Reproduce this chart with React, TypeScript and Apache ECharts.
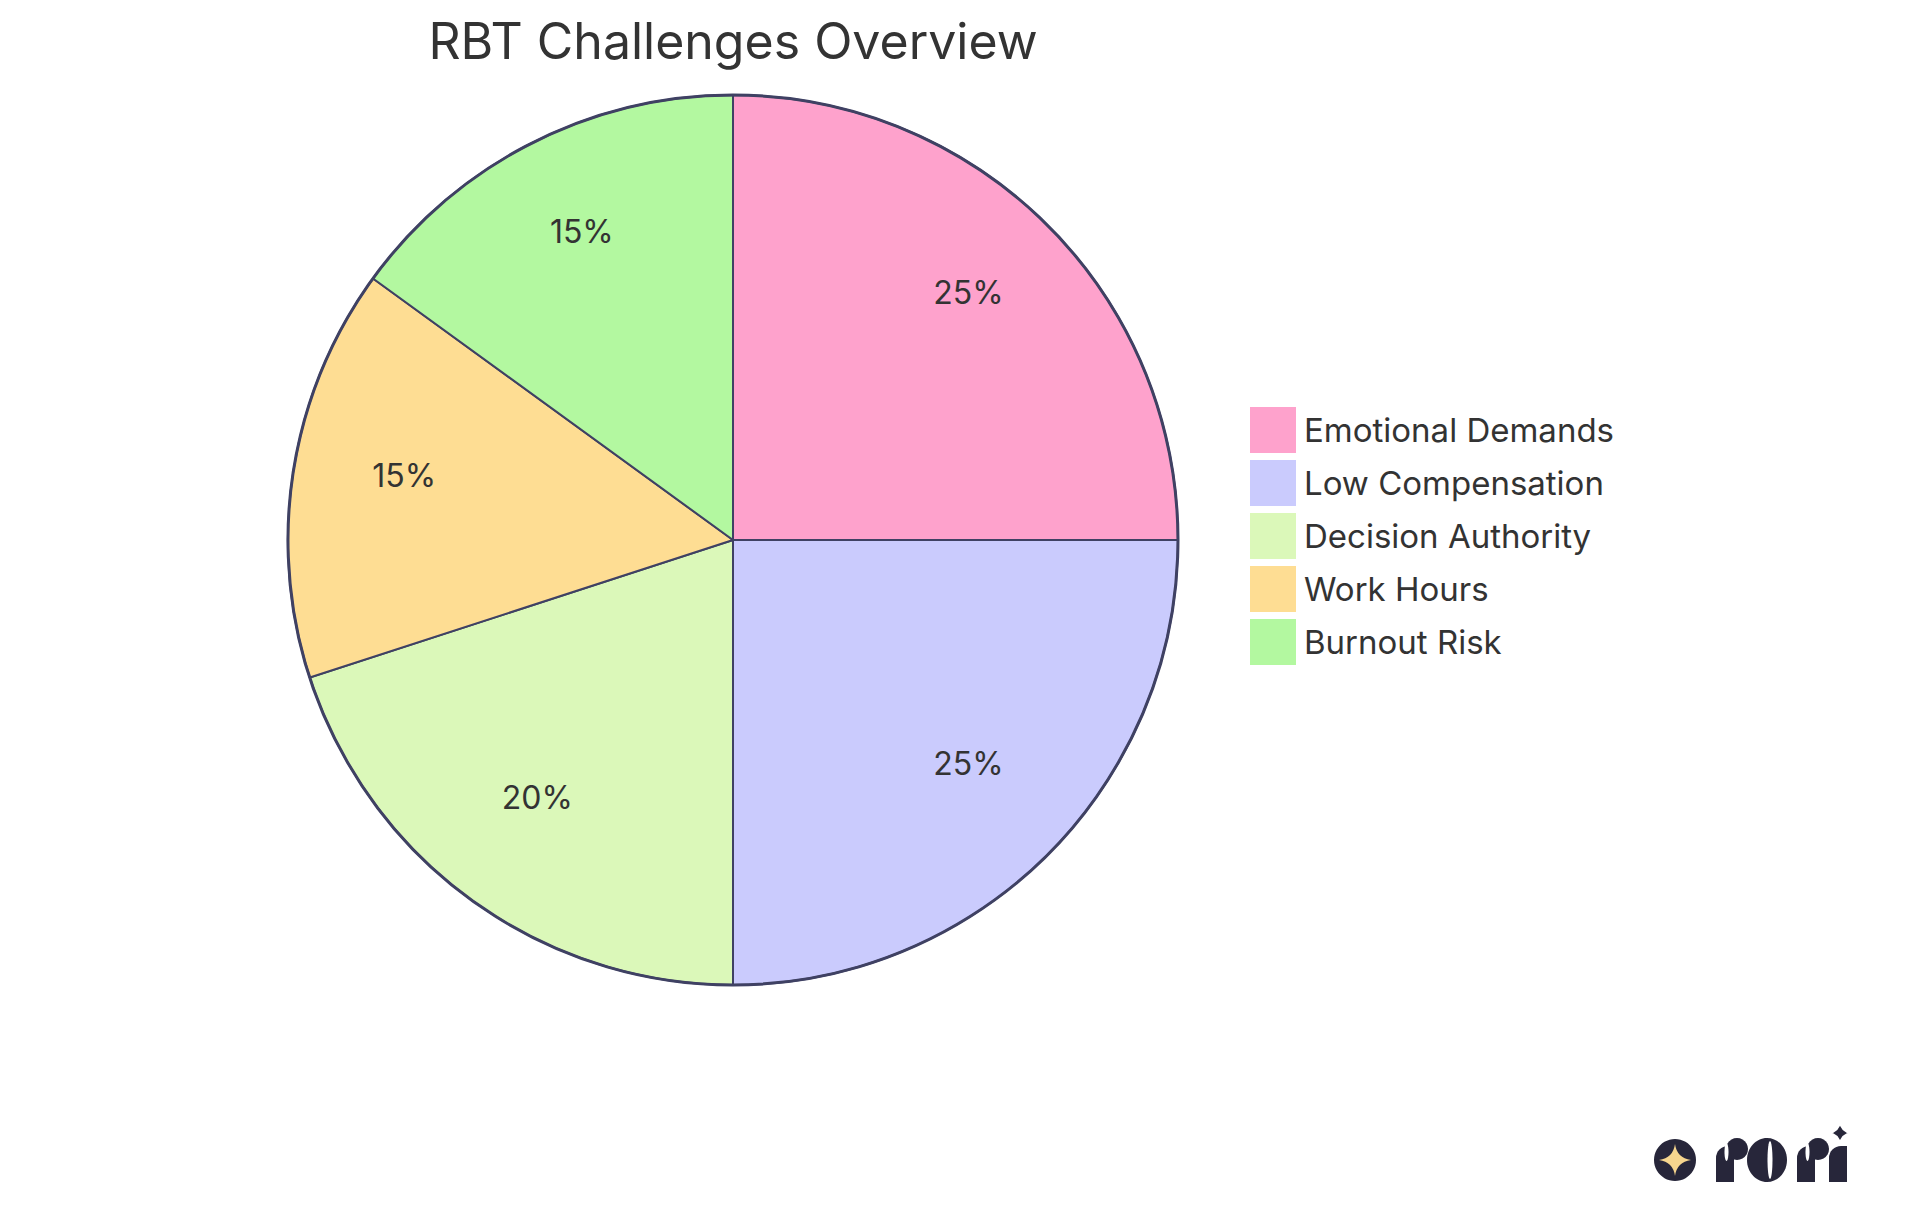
import React, { useEffect, useRef } from "react";
import * as echarts from "echarts";

const chartTitle = "RBT Challenges Overview";
const categories = [
  "Emotional Demands",
  "Low Compensation",
  "Decision Authority",
  "Work Hours",
  "Burnout Risk",
];
const values = [25, 25, 20, 15, 15];
const sliceColors = ["#FEA2CC", "#CACBFD", "#DBF8B9", "#FEDD93", "#B3F8A0"];

const FONT = "Inter, 'Noto Sans', sans-serif";
const STROKE = "#3F4163";
const DARK = "#27263A";

echarts.graphic.registerShape(
  "star4",
  echarts.graphic.extendPath(
    "M0,-1 Q0.12,-0.12 1,0 Q0.12,0.12 0,1 Q-0.12,0.12 -1,0 Q-0.12,-0.12 0,-1 Z",
    {}
  )
);

export default function App() {
  const ref = useRef<HTMLDivElement>(null);

  useEffect(() => {
    if (!ref.current) return;
    const chart = echarts.init(ref.current, undefined, { renderer: "svg" });

    const pieData = categories.map((name, i) => ({
      name,
      value: values[i],
      itemStyle: { color: sliceColors[i] },
    }));
    const labelData = categories.map((name, i) => ({
      name,
      value: values[i],
    }));

    const center = [733, 540];
    const R = 445;

    const rLetter = (x0: number) => [
      {
        type: "rect",
        shape: { x: x0, y: 1146, width: 18, height: 36, r: [12, 0, 0, 0] },
        style: { fill: DARK },
      },
      {
        type: "circle",
        shape: { cx: x0 + 21, cy: 1149, r: 11 },
        style: { fill: DARK },
      },
      {
        type: "ellipse",
        shape: { cx: x0 + 10.5, cy: 1152, rx: 2, ry: 9 },
        style: { fill: "#ffffff" },
      },
    ];

    chart.setOption({
      animation: false,
      backgroundColor: "#ffffff",
      legend: {
        orient: "vertical",
        left: 1250,
        top: 407,
        padding: 0,
        itemWidth: 46,
        itemHeight: 46,
        itemGap: 7,
        icon: "rect",
        selectedMode: false,
        textStyle: {
          fontFamily: FONT,
          fontSize: 33,
          color: "#333333",
          padding: [0, 0, 0, 3],
        },
        data: categories.map((name, i) => ({
          name,
          itemStyle: { color: sliceColors[i], borderWidth: 0 },
        })),
      },
      series: [
        {
          type: "pie",
          center,
          radius: R,
          startAngle: 90,
          clockwise: true,
          silent: true,
          label: { show: false },
          labelLine: { show: false },
          itemStyle: { borderColor: STROKE, borderWidth: 2 },
          emphasis: { disabled: true },
          data: pieData,
        },
        {
          type: "pie",
          center,
          radius: [215, R],
          startAngle: 90,
          clockwise: true,
          silent: true,
          itemStyle: { color: "transparent", borderWidth: 0 },
          label: {
            show: true,
            position: "inside",
            fontFamily: FONT,
            fontSize: 32,
            color: "#333333",
            offset: [0, -12],
            formatter: (p: any) => Math.round(p.percent) + "%",
          },
          labelLine: { show: false },
          emphasis: { disabled: true },
          data: labelData,
        },
        {
          type: "pie",
          center,
          radius: R,
          silent: true,
          label: { show: false },
          labelLine: { show: false },
          itemStyle: { color: "transparent", borderColor: STROKE, borderWidth: 3 },
          emphasis: { disabled: true },
          data: [{ name: "outline", value: 1 }],
        },
      ],
      graphic: [
        {
          type: "text",
          x: 733,
          y: 41,
          style: {
            text: chartTitle,
            fontFamily: FONT,
            fontSize: 50,
            fill: "#333333",
            textAlign: "center",
            textVerticalAlign: "middle",
          },
        },
        {
          type: "group",
          children: [
            { type: "circle", shape: { cx: 1675, cy: 1160, r: 21 }, style: { fill: DARK } },
            {
              type: "star4",
              x: 1675,
              y: 1160,
              scaleX: 16,
              scaleY: 16,
              style: { fill: "#F6D58E" },
            },
            ...rLetter(1716),
            { type: "ellipse", shape: { cx: 1767, cy: 1160, rx: 20, ry: 22 }, style: { fill: DARK } },
            { type: "ellipse", shape: { cx: 1770, cy: 1160, rx: 2.5, ry: 19 }, style: { fill: "#ffffff" } },
            ...rLetter(1797),
            {
              type: "rect",
              shape: { x: 1829, y: 1146, width: 18, height: 36, r: [12, 0, 0, 0] },
              style: { fill: DARK },
            },
            {
              type: "star4",
              x: 1840,
              y: 1133,
              scaleX: 12,
              scaleY: 12,
              style: { fill: DARK, stroke: "#ffffff", lineWidth: 0.2 },
            },
          ],
        },
      ],
    });

    return () => chart.dispose();
  }, []);

  return (
    <div
      ref={ref}
      style={{ position: "absolute", left: 0, top: 0, width: 1920, height: 1215 }}
    />
  );
}
